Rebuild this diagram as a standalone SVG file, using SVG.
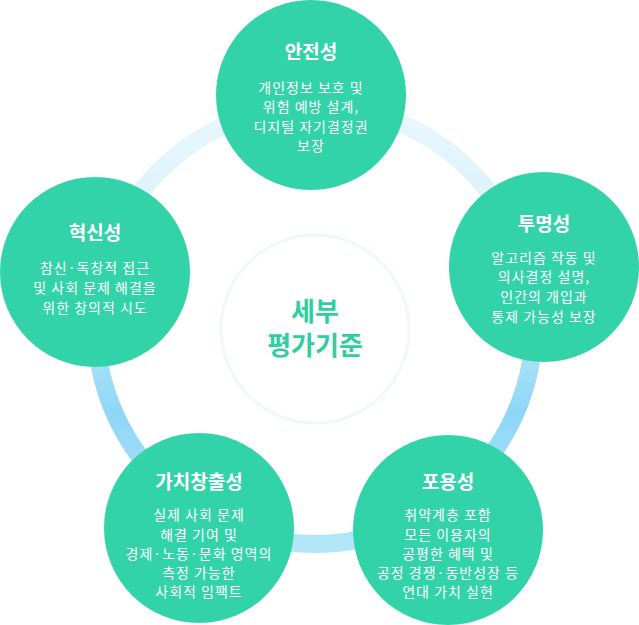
<svg xmlns="http://www.w3.org/2000/svg" width="639" height="625" viewBox="0 0 639 625">
<defs>
<linearGradient id="ring" x1="0" y1="0" x2="0" y2="1">
<stop offset="0" stop-color="#eaf7fd"/>
<stop offset="0.35" stop-color="#d6f0fb"/>
<stop offset="0.7" stop-color="#8fd7f6"/>
<stop offset="1" stop-color="#b3e6f8"/>
</linearGradient>
</defs>
<style>
.n{fill:#32d3a9}
.t{font-family:"Noto Sans CJK KR","Noto Sans",sans-serif;fill:#ffffff;text-anchor:middle}
.h{font-size:19px;font-weight:bold}
.b{font-size:14px;letter-spacing:1px}
.c{font-family:"Noto Sans CJK KR","Noto Sans",sans-serif;fill:#2ecf9f;font-size:26px;font-weight:bold;text-anchor:middle}
</style>
<g id="connectors">
<circle cx="315" cy="325" r="219" fill="none" stroke="url(#ring)" stroke-width="18"/>
</g>
<g id="center">
<circle cx="315" cy="329" r="94" fill="#ffffff" stroke="#eefaf7" stroke-width="3"/>
<text class="c" x="315" y="321">세부</text>
<text class="c" x="315" y="355">평가기준</text>
</g>
<g id="safety">
<circle class="n" cx="311" cy="95" r="95"/>
<text class="t h" x="311" y="59">안전성</text>
<text class="t b" x="311" y="93">개인정보 보호 및</text>
<text class="t b" x="311" y="112">위험 예방 설계,</text>
<text class="t b" x="311" y="132">디지털 자기결정권</text>
<text class="t b" x="311" y="151">보장</text>
</g>
<g id="transparency">
<circle class="n" cx="544" cy="267" r="95"/>
<text class="t h" x="544" y="231">투명성</text>
<text class="t b" x="544" y="263">알고리즘 작동 및</text>
<text class="t b" x="544" y="282">의사결정 설명,</text>
<text class="t b" x="544" y="302">인간의 개입과</text>
<text class="t b" x="544" y="322">통제 가능성 보장</text>
</g>
<g id="inclusion">
<circle class="n" cx="448" cy="530" r="95"/>
<text class="t h" x="448" y="489">포용성</text>
<text class="t b" x="448" y="520">취약계층 포함</text>
<text class="t b" x="448" y="540">모든 이용자의</text>
<text class="t b" x="448" y="559">공평한 혜택 및</text>
<text class="t b" x="448" y="578">공정 경쟁·동반성장 등</text>
<text class="t b" x="448" y="597">연대 가치 실현</text>
</g>
<g id="value">
<circle class="n" cx="199" cy="528" r="95"/>
<text class="t h" x="199" y="489">가치창출성</text>
<text class="t b" x="199" y="520">실제 사회 문제</text>
<text class="t b" x="199" y="540">해결 기여 및</text>
<text class="t b" x="199" y="559">경제·노동·문화 영역의</text>
<text class="t b" x="199" y="578">측정 가능한</text>
<text class="t b" x="199" y="597">사회적 임팩트</text>
</g>
<g id="innovation">
<circle class="n" cx="95" cy="272" r="95"/>
<text class="t h" x="95" y="240">혁신성</text>
<text class="t b" x="95" y="273">참신·독창적 접근</text>
<text class="t b" x="95" y="293">및 사회 문제 해결을</text>
<text class="t b" x="95" y="313">위한 창의적 시도</text>
</g>
</svg>
